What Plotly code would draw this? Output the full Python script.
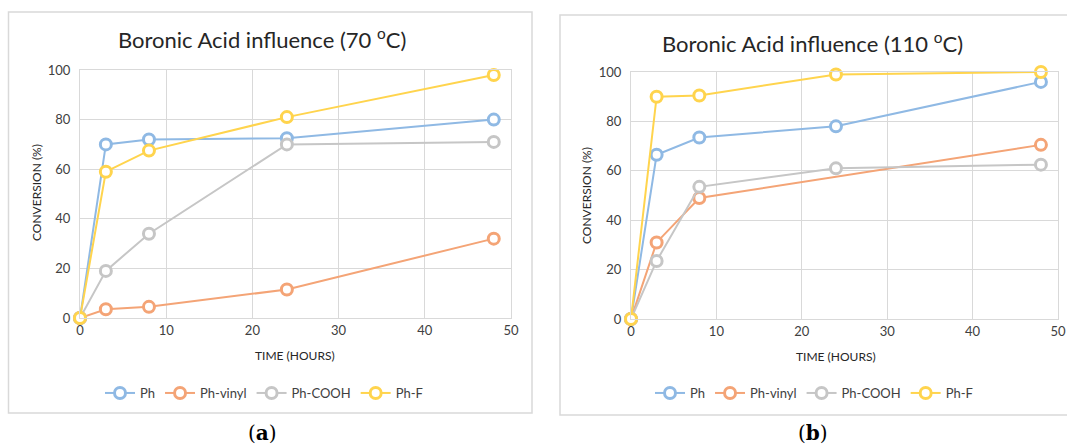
import plotly.graph_objects as go

W, H = 1067, 448

time_a = [0, 3, 8, 24, 48]
ph_a = [0, 70, 72, 72.5, 80]
vinyl_a = [0, 3.5, 4.5, 11.5, 32]
cooh_a = [0, 19, 34, 70, 71]
f_a = [0, 59, 67.5, 81, 98]

time_b = [0, 3, 8, 24, 48]
ph_b = [0, 66.5, 73.5, 78, 96]
time_b_vinyl = [0, 3, 8, 48]
vinyl_b = [0, 31, 49, 70.5]
cooh_b = [0, 23.5, 53.5, 61, 62.5]
f_b = [0, 90, 90.5, 99, 100]

names = ["Ph", "Ph-vinyl", "Ph-COOH", "Ph-F"]
colors = ["#8FB9E4", "#F4A476", "#C6C6C6", "#FFD44D"]

FONT = "Lato"

def px(x):
    return x / W

def py(y):
    return 1 - y / H

fig = go.Figure()

series_a = [(time_a, ph_a), (time_a, vinyl_a), (time_a, cooh_a), (time_a, f_a)]
series_b = [(time_b, ph_b), (time_b_vinyl, vinyl_b), (time_b, cooh_b), (time_b, f_b)]

for i, (xs, ys) in enumerate(series_a):
    fig.add_trace(go.Scatter(
        x=xs, y=ys, name=names[i], mode="lines+markers",
        line=dict(color=colors[i], width=2),
        marker=dict(symbol="circle", size=11, color="white",
                    line=dict(color=colors[i], width=3)),
        xaxis="x", yaxis="y", legend="legend", cliponaxis=False))

for i, (xs, ys) in enumerate(series_b):
    fig.add_trace(go.Scatter(
        x=xs, y=ys, name=names[i], mode="lines+markers",
        line=dict(color=colors[i], width=2),
        marker=dict(symbol="circle", size=11, color="white",
                    line=dict(color=colors[i], width=3)),
        xaxis="x2", yaxis="y2", legend="legend2", cliponaxis=False))

grid = "#D9D9D9"
tickfont = dict(family=FONT, size=13, color="#404040")

def xax(domain, anchor):
    return dict(domain=domain, anchor=anchor, range=[0, 50], tickvals=[0, 10, 20, 30, 40, 50],
                showgrid=True, gridcolor=grid, gridwidth=1, zeroline=False,
                showline=True, linecolor=grid, linewidth=1, mirror=True,
                tickfont=tickfont, ticks="", fixedrange=True, automargin=False)

def yax(domain, anchor):
    return dict(domain=domain, anchor=anchor, range=[0, 100], tickvals=[0, 20, 40, 60, 80, 100],
                showgrid=True, gridcolor=grid, gridwidth=1, zeroline=False,
                showline=True, linecolor=grid, linewidth=1, mirror=True,
                tickfont=tickfont, ticks="", ticklabelstandoff=6, fixedrange=True,
                automargin=False)

legend_common = dict(orientation="h", xanchor="center", yanchor="middle",
                     font=dict(family=FONT, size=13, color="#404040"),
                     bgcolor="rgba(0,0,0,0)", itemwidth=30, tracegroupgap=0)

fig.update_layout(
    template="none",
    width=W, height=H,
    autosize=False,
    margin=dict(l=0, r=0, t=0, b=0, pad=0, autoexpand=False),
    paper_bgcolor="white", plot_bgcolor="white",
    xaxis=xax([px(80), px(511)], "y"),
    yaxis=yax([py(318), py(70)], "x"),
    xaxis2=xax([px(631), px(1058)], "y2"),
    yaxis2=yax([py(319), py(72)], "x2"),
    legend=dict(x=px(264), y=py(393), **legend_common),
    legend2=dict(x=px(814), y=py(393), **legend_common),
    showlegend=True,
)

shapes = [
    dict(type="rect", xref="paper", yref="paper", x0=px(8.5), x1=px(532), y0=py(413), y1=py(12),
         line=dict(color="#D9D9D9", width=1.5), fillcolor="rgba(0,0,0,0)", layer="below"),
    dict(type="rect", xref="paper", yref="paper", x0=px(560), x1=px(1075), y0=py(415), y1=py(15),
         line=dict(color="#D9D9D9", width=1.5), fillcolor="rgba(0,0,0,0)", layer="below"),
]
fig.update_layout(shapes=shapes)

ann = []
title_font = dict(family=FONT, size=22, color="#262626")
ann.append(dict(text="Boronic Acid influence (70 <sup>o</sup>C)", x=px(262), y=py(39),
                xref="paper", yref="paper", showarrow=False, font=title_font,
                xanchor="center", yanchor="middle"))
ann.append(dict(text="Boronic Acid influence (110 <sup>o</sup>C)", x=px(812), y=py(42),
                xref="paper", yref="paper", showarrow=False, font=title_font,
                xanchor="center", yanchor="middle"))
axis_title_font = dict(family=FONT, size=12, color="#262626")
ann.append(dict(text="TIME (HOURS)", x=px(295), y=py(355), xref="paper", yref="paper",
                showarrow=False, font=axis_title_font, xanchor="center", yanchor="middle"))
ann.append(dict(text="TIME (HOURS)", x=px(836), y=py(356), xref="paper", yref="paper",
                showarrow=False, font=axis_title_font, xanchor="center", yanchor="middle"))
ann.append(dict(text="CONVERSION (%)", x=px(36), y=py(193), xref="paper", yref="paper",
                showarrow=False, font=axis_title_font, textangle=-90,
                xanchor="center", yanchor="middle"))
ann.append(dict(text="CONVERSION (%)", x=px(586), y=py(196), xref="paper", yref="paper",
                showarrow=False, font=axis_title_font, textangle=-90,
                xanchor="center", yanchor="middle"))
label_font = dict(family="DejaVu Serif", size=20, color="black")
ann.append(dict(text="(<b>a</b>)", x=px(262), y=py(433), xref="paper", yref="paper",
                showarrow=False, font=label_font, xanchor="center", yanchor="middle"))
ann.append(dict(text="(<b>b</b>)", x=px(813), y=py(433), xref="paper", yref="paper",
                showarrow=False, font=label_font, xanchor="center", yanchor="middle"))
fig.update_layout(annotations=ann)

fig.write_html("out.html",
               config={"displayModeBar": False},
               post_script="document.body.style.margin='0';document.body.style.overflow='hidden';")
